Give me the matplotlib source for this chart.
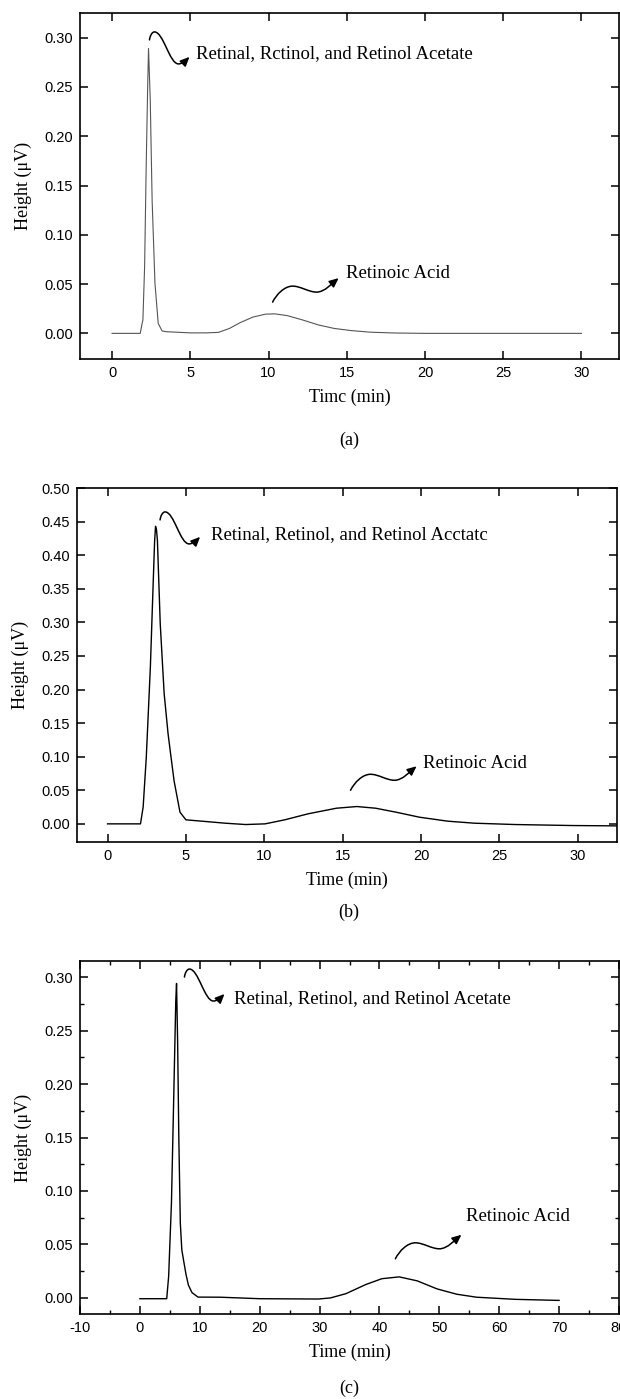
import numpy as np
import matplotlib
matplotlib.use("Agg")
import matplotlib.pyplot as plt
from matplotlib.path import Path
from matplotlib.patches import FancyArrowPatch
from matplotlib.transforms import Affine2D, ScaledTranslation
from matplotlib.ticker import MultipleLocator, FormatStrFormatter

plt.rcParams["axes.unicode_minus"] = False

# ---------------- data ----------------
# Panel (a)
time_a = [0, 1.8, 1.92, 1.97, 2.08, 2.18, 2.28, 2.33, 2.44, 2.56, 2.74, 2.95, 3.2, 3.46,
          5.0, 6.0, 6.8, 7.5, 8.2, 9.0, 9.8, 10.4, 11.2, 12.2, 13.2, 14.2, 15.3, 16.5,
          18.0, 20.0, 25.0, 30.0]
height_a = [0, 0, 0.010, 0.0135, 0.068, 0.169, 0.254, 0.289, 0.237, 0.135, 0.051, 0.010,
            0.0024, 0.0017, 0.0005, 0.0005, 0.001, 0.005, 0.011, 0.0165, 0.0195, 0.0198,
            0.018, 0.0135, 0.0085, 0.005, 0.0028, 0.0012, 0.0004, 0, 0, 0]

# Panel (b)
time_b = [0, 2.1, 2.27, 2.47, 2.73, 2.93, 3.0, 3.06, 3.12, 3.18, 3.36, 3.61, 3.86, 4.24,
          4.62, 5.0, 6.26, 7.5, 8.8, 10.05, 11.3, 12.8, 14.6, 15.9, 17.1, 18.4, 19.9, 21.7,
          23.4, 26.0, 29.7, 32.5]
height_b = [0, 0, 0.025, 0.099, 0.233, 0.372, 0.42, 0.443, 0.438, 0.422, 0.298, 0.194,
            0.134, 0.0645, 0.0174, 0.006, 0.0035, 0.001, -0.001, 0, 0.006, 0.015, 0.0233,
            0.0258, 0.0233, 0.0174, 0.0099, 0.004, 0.001, -0.001, -0.0025, -0.003]

# Panel (c)
time_c = [0, 4.48, 4.8, 5.27, 5.66, 5.99, 6.12, 6.3, 6.5, 6.75, 7.0, 7.3, 7.7, 8.1, 8.7,
          9.7, 13.4, 20.0, 29.8, 31.8, 34.4, 37.7, 40.4, 43.3, 46.3, 49.6, 52.9, 56.2,
          62.7, 70.0]
height_c = [-0.0007, -0.0007, 0.020, 0.089, 0.19, 0.277, 0.294, 0.24, 0.15, 0.07, 0.045,
            0.035, 0.022, 0.012, 0.005, 0.0008, 0.0007, -0.0007, -0.001, 0, 0.004, 0.0125,
            0.018, 0.0197, 0.016, 0.0085, 0.0035, 0.0007, -0.0013, -0.0023]

label_peak1_a = "Retinal, Rctinol, and Retinol Acetate"
label_peak1_b = "Retinal, Retinol, and Retinol Acctatc"
label_peak1_c = "Retinal, Retinol, and Retinol Acetate"
label_peak2 = "Retinoic Acid"
xlabel_a = "Timc (min)"
xlabel_bc = "Time (min)"
ylabel = "Height (\u03bcV)"
panel_labels = ["(a)", "(b)", "(c)"]

SANS = ["Liberation Sans", "DejaVu Sans"]
SERIF = ["Liberation Serif", "DejaVu Serif"]

W, H = 620, 1399
fig = plt.figure(figsize=(W / 100, H / 100), dpi=100)


def rect(left, top, right, bottom):
    return [left / W, 1 - bottom / H, (right - left) / W, (bottom - top) / H]


# squiggle shapes as Bezier paths in pixel offsets (x right, y up)
def shape_A():
    S, P, T, E = (0, 0), (5, 8), (29, -24), (40, -17)
    return [S, (S[0] + 0.5, S[1] + 4), (P[0] - 2.5, P[1]), P,
            (P[0] + 9, P[1]), (T[0] - 9, T[1]), T,
            (T[0] + 4, T[1]), (E[0] - 3, E[1] - 3), E]


def shape_B():
    S, P, T, E = (0, 0), (20, 16), (44, 10), (66, 24)
    return [S, (S[0] + 4, S[1] + 8), (P[0] - 8, P[1]), P,
            (P[0] + 8, P[1]), (T[0] - 8, T[1]), T,
            (T[0] + 8, T[1]), (E[0] - 6, E[1] - 5), E]


def squiggle(ax, x0, y0, verts):
    codes = [Path.MOVETO] + [Path.CURVE4] * 9
    path = Path(verts, codes)
    trans = (Affine2D().scale(1 / 100.0) + fig.dpi_scale_trans
             + ScaledTranslation(x0, y0, ax.transData))
    arr = FancyArrowPatch(path=path, arrowstyle="-|>,head_length=0.55,head_width=0.25",
                          mutation_scale=10, lw=1.1, color="black", transform=trans,
                          clip_on=False)
    ax.add_artist(arr)


def style_axes(ax, xlim, ylim, xmaj, ymaj, xlabel, xminor=None, yminor=None):
    ax.set_xlim(*xlim)
    ax.set_ylim(*ylim)
    ax.xaxis.set_major_locator(MultipleLocator(xmaj))
    ax.yaxis.set_major_locator(MultipleLocator(ymaj))
    ax.yaxis.set_major_formatter(FormatStrFormatter("%.2f"))
    if xminor:
        ax.xaxis.set_minor_locator(MultipleLocator(xminor))
    if yminor:
        ax.yaxis.set_minor_locator(MultipleLocator(yminor))
    ax.tick_params(which="major", direction="in", top=True, right=True, length=5.5,
                   width=1.1, labelsize=10.5, pad=5)
    ax.tick_params(which="minor", direction="in", top=True, right=True, length=3,
                   width=1.0)
    for t in ax.get_xticklabels() + ax.get_yticklabels():
        t.set_fontfamily(SANS)
    for s in ax.spines.values():
        s.set_linewidth(1.2)
    ax.set_xlabel(xlabel, family=SERIF, fontsize=13, labelpad=6)
    ax.set_ylabel(ylabel, family=SERIF, fontsize=13, labelpad=9)


TXT = 13.5

# ---------------- panel (a) ----------------
ax1 = fig.add_axes(rect(80, 13, 619, 359))
ax1.plot(time_a, height_a, color="#555555", lw=0.8)
style_axes(ax1, (-2.05, 32.4), (-0.026, 0.325), 5, 0.05, xlabel_a)
ax1.text(5.36, 0.284, label_peak1_a, family=SERIF, fontsize=TXT, va="center", ha="left")
ax1.text(14.93, 0.061, label_peak2, family=SERIF, fontsize=TXT, va="center", ha="left")
squiggle(ax1, 2.39, 0.2977, shape_A())
squiggle(ax1, 10.26, 0.0317, shape_B())

# ---------------- panel (b) ----------------
ax2 = fig.add_axes(rect(77, 488, 617, 842))
ax2.plot(time_b, height_b, color="black", lw=1.0)
style_axes(ax2, (-1.95, 32.5), (-0.027, 0.50), 5, 0.05, xlabel_bc)
ax2.text(6.63, 0.43, label_peak1_b, family=SERIF, fontsize=TXT, va="center", ha="left")
ax2.text(20.1, 0.09, label_peak2, family=SERIF, fontsize=TXT, va="center", ha="left")
squiggle(ax2, 3.35, 0.4525, shape_A())
squiggle(ax2, 15.5, 0.05, shape_B())

# ---------------- panel (c) ----------------
ax3 = fig.add_axes(rect(80, 961, 619, 1314))
ax3.plot(time_c, height_c, color="black", lw=1.0)
style_axes(ax3, (-10, 80), (-0.015, 0.315), 10, 0.05, xlabel_bc, xminor=5, yminor=0.025)
ax3.text(15.7, 0.2795, label_peak1_c, family=SERIF, fontsize=TXT, va="center", ha="left")
ax3.text(54.5, 0.0763, label_peak2, family=SERIF, fontsize=TXT, va="center", ha="left")
squiggle(ax3, 7.44, 0.30, shape_A())
squiggle(ax3, 42.66, 0.0366, shape_B())

# panel captions
for lab, ypx in zip(panel_labels, [440, 912, 1388]):
    fig.text(349 / W, 1 - ypx / H, lab, family=SERIF, fontsize=13, ha="center", va="center")

fig.savefig("out.png", dpi=100)
